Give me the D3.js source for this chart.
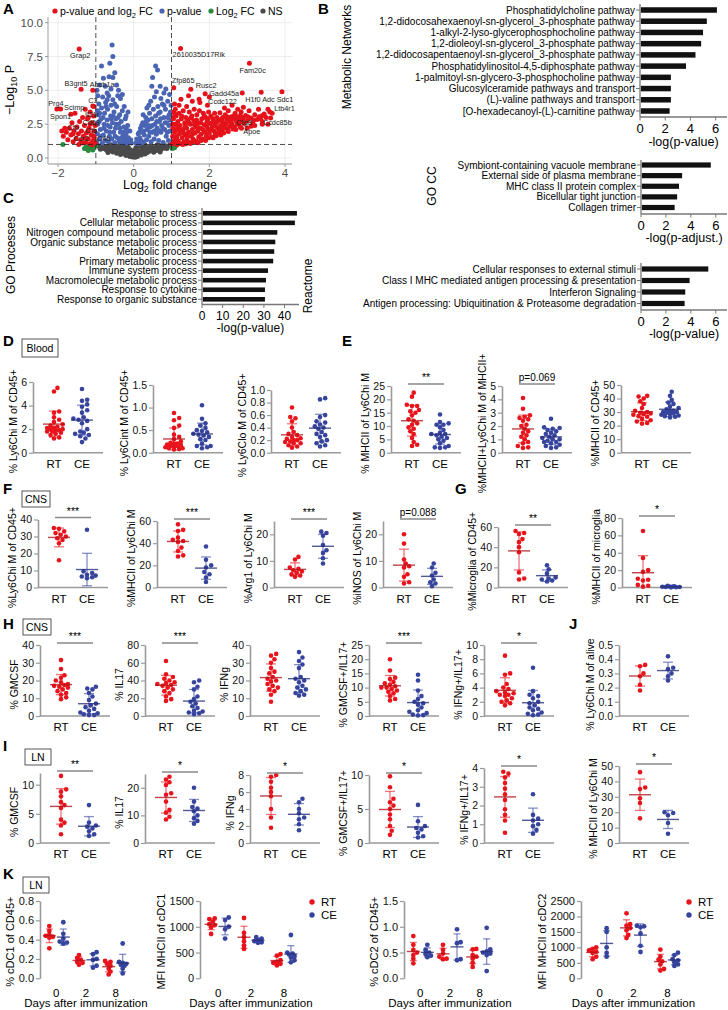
<!DOCTYPE html>
<html><head><meta charset="utf-8">
<script src="https://cdn.jsdelivr.net/npm/d3@7"></script>
<style>body{margin:0;background:#fff}svg{display:block}</style>
</head><body><script>
// ================= DATA =================
// Panel A volcano: [log2FC, -log10 P]
const volcanoGray = [[-0.95,0.92],[-0.9,0.8],[-0.85,0.95],[-0.8,0.7],[-0.78,0.88],[-0.72,0.6],[-0.7,0.82],[-0.65,0.95],[-0.62,0.55],[-0.6,0.75],[-0.55,0.45],[-0.52,0.88],[-0.5,0.65],[-0.45,0.35],[-0.42,0.78],[-0.4,0.55],[-0.38,0.95],[-0.35,0.25],[-0.32,0.68],[-0.3,0.45],[-0.27,0.85],[-0.25,0.3],[-0.22,0.6],[-0.2,0.18],[-0.18,0.92],[-0.15,0.42],[-0.12,0.7],[-0.1,0.12],[-0.08,0.3],[-0.05,0.55],[-0.03,0.08],[0,0.2],[0.02,0.4],[0.04,0.05],[0.06,0.75],[0.08,0.28],[0.1,0.12],[0.12,0.55],[0.15,0.35],[0.17,0.9],[0.2,0.22],[0.22,0.65],[0.25,0.45],[0.28,0.85],[0.3,0.3],[0.33,0.6],[0.36,0.4],[0.4,0.78],[0.42,0.5],[0.46,0.95],[0.5,0.62],[0.53,0.42],[0.57,0.8],[0.6,0.55],[0.65,0.7],[0.68,0.92],[0.72,0.62],[0.76,0.82],[0.8,0.72],[0.85,0.9],[0.9,0.85],[0.95,0.95],[-0.98,0.98],[-0.6,0.98],[0.3,0.98],[-0.25,0.98],[0.62,0.98],[-0.1,0.5],[0.05,0.62],[-0.15,0.8],[0.1,0.9],[-0.88,0.65],[-0.68,0.4],[0.7,0.45],[0.88,0.7],[-0.35,0.72],[0.45,0.7],[-0.02,0.35],[0.18,0.5]];
const volcanoBlue = [[-0.98,1.2],[-0.96,1.8],[-0.95,2.5],[-0.93,3.2],[-0.92,4.0],[-0.9,1.4],[-0.88,2.1],[-0.86,2.9],[-0.85,3.7],[-0.83,1.1],[-0.82,4.5],[-0.8,1.7],[-0.78,2.5],[-0.77,3.3],[-0.75,1.3],[-0.74,4.1],[-0.72,2.0],[-0.7,2.8],[-0.69,3.6],[-0.67,1.2],[-0.66,4.6],[-0.64,1.6],[-0.62,2.3],[-0.61,3.1],[-0.6,3.9],[-0.58,1.4],[-0.56,2.6],[-0.55,4.3],[-0.53,1.9],[-0.52,3.4],[-0.5,1.15],[-0.48,2.2],[-0.47,2.9],[-0.45,3.8],[-0.43,1.5],[-0.42,4.6],[-0.4,2.5],[-0.38,1.25],[-0.37,3.2],[-0.35,1.9],[-0.33,2.7],[-0.31,1.1],[-0.3,3.5],[-0.28,1.6],[-0.26,2.3],[-0.24,1.3],[-0.22,2.9],[-0.2,1.8],[-0.18,1.1],[-0.16,2.4],[-0.14,1.5],[-0.12,1.2],[-0.1,2.0],[-0.08,1.35],[-0.06,1.1],[-0.97,5.0],[-0.9,5.4],[-0.75,5.3],[-0.6,5.1],[-0.45,5.4],[-0.55,5.95],[-0.5,6.3],[-0.63,7.0],[-0.85,6.8],[-0.55,7.5],[-0.57,8.35],[-0.35,4.4],[-0.25,3.8],[-0.4,5.0],[-0.7,4.8],[-0.8,5.9],[-0.95,4.6],[-0.65,6.0],[-0.3,4.7],[-0.2,3.1],[-0.15,3.4],
 [-0.96,3.5],[-0.91,2.7],[-0.87,1.6],[-0.81,3.0],[-0.79,2.2],[-0.73,3.8],[-0.68,2.4],[-0.63,1.9],[-0.59,2.9],[-0.54,3.1],[-0.49,1.6],[-0.46,2.5],[-0.41,3.0],[-0.36,2.2],[-0.32,1.5],[-0.27,1.9],[-0.23,1.5],[-0.19,2.1],[-0.9,3.3],[-0.7,4.3],[-0.5,4.0],
 [0.06,1.1],[0.08,1.4],[0.1,1.2],[0.12,1.8],[0.14,1.05],[0.16,1.5],[0.18,2.2],[0.2,1.3],[0.22,1.9],[0.24,2.6],[0.26,1.15],[0.28,1.7],[0.3,2.4],[0.32,3.0],[0.34,1.35],[0.36,2.1],[0.38,2.8],[0.4,1.6],[0.42,3.3],[0.44,2.3],[0.46,1.2],[0.48,2.9],[0.5,1.9],[0.52,3.6],[0.54,1.4],[0.56,2.5],[0.58,3.1],[0.6,1.75],[0.62,2.2],[0.64,3.8],[0.66,1.3],[0.68,2.7],[0.7,3.4],[0.72,1.9],[0.74,2.4],[0.76,4.0],[0.78,1.15],[0.8,3.0],[0.82,2.1],[0.84,3.6],[0.86,1.6],[0.88,2.6],[0.9,4.2],[0.92,1.3],[0.94,3.2],[0.96,2.0],[0.98,2.8],[0.99,3.9],[0.58,6.8],[0.63,6.5],[0.5,5.95],[0.48,5.3],[0.7,5.3],[0.8,4.8],[0.55,4.5],[0.45,4.2],[0.35,3.7],[0.25,3.2],[0.6,4.9],[0.95,4.7],[0.85,5.1],[0.72,4.4],[0.4,3.9],
 [0.15,1.9],[0.21,2.4],[0.27,2.0],[0.33,2.7],[0.39,2.4],[0.43,1.9],[0.49,2.4],[0.55,2.0],[0.61,2.7],[0.67,2.0],[0.71,2.9],[0.77,2.2],[0.83,2.6],[0.89,1.9],[0.93,2.4],[0.97,3.4],[0.66,3.3],[0.8,3.9],[0.9,3.0]];
const volcanoRed = [[1.02,1.05],[1.03,1.6],[1.04,2.2],[1.05,2.9],[1.06,3.4],[1.07,1.3],[1.08,1.9],[1.1,2.5],[1.11,1.1],[1.12,3.1],[1.14,1.6],[1.15,2.1],[1.17,2.7],[1.18,1.25],[1.2,3.3],[1.21,1.8],[1.23,2.4],[1.25,1.05],[1.26,2.9],[1.28,1.5],[1.3,2.1],[1.31,3.5],[1.33,1.2],[1.35,2.6],[1.36,1.7],[1.38,3.0],[1.4,2.2],[1.41,1.35],[1.43,2.8],[1.45,1.9],[1.47,3.4],[1.48,1.15],[1.5,2.5],[1.52,1.6],[1.54,3.1],[1.55,2.1],[1.57,1.4],[1.59,2.75],[1.6,3.6],[1.62,1.85],[1.64,2.3],[1.65,1.25],[1.67,3.2],[1.69,2.0],[1.7,2.6],[1.72,1.55],[1.74,3.5],[1.76,2.2],[1.78,1.75],[1.8,2.9],[1.82,1.4],[1.84,3.3],[1.86,2.45],[1.88,1.9],[1.9,3.0],[1.92,1.6],[1.94,2.7],[1.96,2.15],[1.98,3.4],[2.0,1.85],[2.02,2.55],[2.04,3.1],[2.06,1.55],[2.08,2.3],[2.1,2.9],[2.12,2.0],[2.14,3.3],[2.16,1.75],[2.18,2.6],[2.2,3.0],[2.22,2.2],[2.24,1.9],[2.26,2.8],[2.28,3.35],[2.3,2.4],[2.32,2.05],[2.35,3.0],[2.37,2.6],[2.39,2.2],[2.42,3.2],[2.44,2.5],[2.46,2.85],[2.48,2.15],[2.5,3.5],[2.53,2.7],[2.55,2.35],[2.58,3.05],[2.6,2.55],[2.63,2.9],[2.66,2.3],[2.68,3.3],[2.71,2.75],[2.74,2.5],[2.77,3.05],[2.8,2.65],[2.84,3.4],[2.88,2.85],[2.92,2.55],[2.96,3.15],[3.0,2.75],[3.05,3.5],[3.1,2.95],[3.15,2.6],[3.2,3.2],[3.26,2.85],[3.32,3.05],[3.4,2.7],[3.5,3.0],[3.55,2.5],[3.62,2.95],[2.85,2.2],[3.1,2.35],[1.15,0.98],[1.3,1.0],[1.5,1.08],[1.7,1.12],[1.9,1.3],[2.1,1.5],[2.3,1.7],[2.5,1.95],[2.7,2.1],[1.05,3.0],[1.1,3.6],[1.2,3.9],[1.4,3.8],[1.25,4.35],[1.55,4.2],[1.75,4.1],[1.95,3.9],[2.4,3.7],[2.6,3.9],[2.0,4.5],[1.45,4.6],[1.08,4.0],[3.3,3.6],[3.6,3.4],[2.9,3.75],[3.0,2.2],[3.2,2.4],[3.4,2.5],[3.55,3.6],[2.75,3.6],
 [1.03,2.5],[1.09,3.25],[1.13,1.45],[1.16,2.35],[1.22,2.05],[1.27,3.1],[1.32,1.85],[1.37,2.35],[1.42,1.6],[1.46,2.6],[1.51,2.95],[1.56,1.8],[1.61,2.45],[1.66,2.8],[1.71,2.25],[1.77,2.6],[1.83,2.1],[1.87,3.1],[1.93,2.35],[1.97,2.9],[2.03,2.1],[2.09,2.65],[2.15,2.4],[2.21,2.7],[2.27,2.3],[2.33,2.75],[2.41,2.45],[2.47,3.05],[2.56,2.8],[2.65,3.1],[2.73,2.95],[2.82,3.15],[2.9,3.0],[3.02,3.05],[3.18,2.8],[3.35,2.9],[3.45,3.25],[2.62,2.15],[2.38,1.85],[2.18,1.65],[1.98,1.5],[1.78,1.3],[1.6,1.2],[1.38,1.05],
 [-1.02,1.1],[-1.05,1.5],[-1.04,2.0],[-1.08,1.25],[-1.1,2.6],[-1.12,1.7],[-1.15,1.05],[-1.18,2.2],[-1.2,1.4],[-1.22,2.9],[-1.25,1.85],[-1.27,1.15],[-1.3,2.4],[-1.33,1.6],[-1.35,3.0],[-1.38,2.0],[-1.4,1.3],[-1.43,2.7],[-1.46,1.8],[-1.5,2.3],[-1.52,1.45],[-1.55,3.3],[-1.58,2.0],[-1.6,1.2],[-1.63,2.6],[-1.66,1.7],[-1.7,2.2],[-1.74,1.35],[-1.78,1.9],[-1.82,2.2],[-1.86,1.6],[-1.9,2.0],[-1.06,3.1],[-1.15,3.4],[-1.28,3.6],[-1.02,2.4],[-1.1,0.98],[-1.45,1.0],[-1.35,1.1],[-1.05,3.8]];
const volcanoGreen = [[-1.87,1.0],[-1.2,0.55],[-1.15,0.75],[-1.12,0.9],[-1.25,0.85],[-1.08,0.6],[-1.3,0.7],[-1.05,0.8],[-1.18,0.95],[-1.22,0.65],[1.02,0.7],[1.05,0.85],[1.08,0.75],[1.12,0.92],[-1.0,0.95]];
const volcanoGenes = [["Grap2",-1.44,8.05],["2610035D17Rik",1.24,8.1],["Fam20c",3.06,7.0],["Zfp865",1.06,5.2],["Rusc2",1.51,5.09],["Gadd45a",1.89,4.74],["Ccdc122",1.73,4.35],["H1f0",2.87,4.8],["Adc",3.37,4.86],["Sdc1",3.92,4.9],["Ltb4r1",3.66,3.3],["Ccdc85b",3.39,3.13],["Ctg8",2.82,2.75],["Apoe",2.82,2.3],["B3gnt5",-1.39,5.09],["Abcb1a",-1.08,5.0],["C3",-1.08,3.85],["Prg4",-2.03,3.63],["Spon1",-1.93,3.63],["Scimp",-1.66,3.24],["Il21r",-1.2,3.0],["Cd69",-1.15,2.5],["Cfb",-1.2,2.0],["C4b",-1.05,1.6],["Cfp",-1.6,1.8],["Ccr2",-1.3,1.5]];
const volcanoXTicks = [-2,0,2,4];
const volcanoYTicks = [0,2.5,5,7.5,10];

// Panel B / C enrichment
const metabolicPathways = ["Phosphatidylcholine pathway","1,2-didocosahexaenoyl-sn-glycerol_3-phosphate pathway","1-alkyl-2-lyso-glycerophosphocholine pathway","1,2-dioleoyl-sn-glycerol_3-phosphate pathway","1,2-didocosapentaenoyl-sn-glycerol_3-phosphate pathway","Phosphatidylinositol-4,5-diphosphate pathway","1-palmitoyl-sn-glycero-3-phosphocholine pathway","Glucosylceramide pathways and transport","(L)-valine pathways and transport","[O-hexadecanoyl-(L)-carnitine pathway"];
const metabolicScores = [6.1,5.3,5.0,4.85,4.4,3.65,2.45,2.45,2.45,2.35];
const goccTerms = ["Symbiont-containing vacuole membrane","External side of plasma membrane","MHC class II protein complex","Bicellular tight junction","Collagen trimer"];
const goccScores = [5.6,3.3,3.05,2.9,2.7];
const reactomeTerms = ["Cellular responses to external stimuli","Class I MHC mediated antigen processing & presentation","Interferon Signaling","Antigen processing: Ubiquitination & Proteasome degradation"];
const reactomeScores = [5.4,3.9,3.55,3.5];
const goProcessTerms = ["Response to stress","Cellular metabolic process","Nitrogen compound metabolic process","Organic substance metabolic process","Metabolic process","Primary metabolic process","Immune system process","Macromolecule metabolic process","Response to cytokine","Response to organic substance"];
const goProcessScores = [46,45,36.5,35.5,35,34.5,32,31,30.5,30.5];
const enrichTicks = [0,2,4,6];
const goProcessTicks = [0,10,20,30,40];

// Panels D-J (RT vs CE)
const groups = ["RT","CE"];
const bloodLy6ChiRT = [5.5,5.2,3.5,3.4,3.0,2.8,2.6,2.4,2.3,2.2,2.1,2.1,2.0,2.0,1.9,1.9,1.8,1.8,1.7,1.6,1.5,1.3,1.2];
const bloodLy6ChiCE = [5.4,4.5,4.4,4.1,3.9,3.6,3.4,3.0,2.9,2.8,2.7,2.5,2.0,1.8,1.7,1.6,1.5,1.4,1.2,0.9];
const bloodLy6CintRT = [0.88,0.77,0.72,0.6,0.55,0.4,0.35,0.3,0.25,0.22,0.2,0.2,0.18,0.17,0.15,0.15,0.13,0.12,0.1,0.1,0.08,0.07];
const bloodLy6CintCE = [1.05,0.75,0.65,0.6,0.55,0.5,0.48,0.45,0.42,0.4,0.38,0.35,0.3,0.28,0.2,0.15,0.15,0.12,0.1];
const bloodLy6CloRT = [0.72,0.57,0.55,0.5,0.4,0.33,0.3,0.28,0.25,0.23,0.22,0.2,0.2,0.18,0.17,0.15,0.15,0.12,0.1,0.08];
const bloodLy6CloCE = [0.87,0.85,0.6,0.57,0.5,0.48,0.45,0.42,0.4,0.38,0.33,0.3,0.28,0.25,0.2,0.18,0.15,0.12,0.1];
const bloodMhcLy6ChiRT = [22.5,21,18,17.5,17.5,16,15.5,15,14,12.5,12,11,10.5,9.5,9,8,7,5.5,4,3,2.5];
const bloodMhcLy6ChiCE = [14.3,11.5,11,10.5,10.5,9.5,8.5,7.5,7,7,6.5,6,5.5,5,4.5,3.5,2.5,2,2,1.8];
const bloodMhcFracRT = [4.1,3.3,2.8,2.7,2.6,2.5,2.4,2.1,2.0,1.8,1.6,1.5,1.3,1.2,1.0,0.8,0.7,0.5,0.4,0.35];
const bloodMhcFracCE = [2.55,1.9,1.85,1.8,1.7,1.6,1.5,1.4,1.3,1.2,1.1,1.0,1.0,0.9,0.8,0.8,0.7,0.6,0.5,0.4,0.35];
const bloodMhcCd45RT = [42,41.5,40,38,36,33,31,30,29.5,29,28.5,28,27,26.5,25,24,23,22,21.5];
const bloodMhcCd45CE = [45,42,39,37,36,34,33,32,31,30.5,30,30,29.5,29,28.5,28,27.5,27,26.5,26];
const cnsLy6ChiRT = [35,34.5,33,32,31,30,29,28,26,16];
const cnsLy6ChiCE = [34,9.5,8.5,7.5,7,6.5,6,5.5];
const cnsMhcRT = [57,52,51,45,43,42,41,36,33,29,28];
const cnsMhcCE = [37,25,20,18,14,12,9,5];
const cnsArg1RT = [11.5,10.5,7.5,7,6.5,6,5.5,5,4.5,4];
const cnsArg1CE = [21,20.5,19.5,16,14,13,11,9];
const cnsInosRT = [20,16.5,10.5,9,8,7.5,5,4,2,1.5];
const cnsInosCE = [9,7.5,5.5,4.5,3,2,1.5,0.5];
const cnsMicrogliaRT = [56,54,53,48,45,40,35,15,9,8];
const cnsMicrogliaCE = [22,18,14,10,9,8,7,6];
const microgliaMhcRT = [65,34,20,18,10,9,8,3,2,1];
const microgliaMhcCE = [2,1.5,1.2,1,0.8,0.6,0.5,0.3,0.2];
const cnsGmcsfRT = [31.5,26.5,23,21.5,20,19,18,17.5,17,16.5,16,15,14,13,12,10.5,9.5];
const cnsGmcsfCE = [16.5,15.5,15,13,11,9,7,6,5,4,3,2,1.5,1,0.5,0.5];
const cnsIl17RT = [62,47,44,42,40,38,37,36,35,34,32,30,28,26,22,19,17];
const cnsIl17CE = [40,38,33,30,22,19,16,14,11,9,6,5,4,3,2];
const cnsIfngRT = [35,34,32,30,27,25,24,22,21,20,19.5,18,17,16,15,14,12,8];
const cnsIfngCE = [36,33,31,29,27,22,21,20,19,17,16,15,14,13,12,11.5];
const cnsGmIlRT = [20,16,13.5,13,12,11.5,11,10.5,10,10,9.5,9,8.5,8,7,6,5.5];
const cnsGmIlCE = [14.5,12.5,9,7,6,5,4.5,4,3,2,1.5,1,0.5,0.3,0.2];
const cnsIfIlRT = [8.5,6,5.8,4.5,4,3.8,3.5,3.3,3.2,3,3,2.8,2.5,2.2,2,1.8,1.5];
const cnsIfIlCE = [6.8,3.5,3,2.8,2.5,2,1.8,1.5,1.2,1,0.8,0.5,0.3,0.2,0.1];
const aliveLy6ChiRT = [0.36,0.35,0.3,0.28,0.22,0.18];
const aliveLy6ChiCE = [0.42,0.34,0.33,0.3,0.28,0.25];
const lnGmcsfRT = [11.5,9.2,8.8,8,7,6.5,6,4,3.5,3,1.5];
const lnGmcsfCE = [6.5,3.5,3,2.8,2.5,2,1.5,1.2];
const lnIl17RT = [24,23,22,21,18,17.5,15,12,11,9.5,8.5];
const lnIl17CE = [20,15,13,12.5,11.5,10,9,8,7];
const lnIfngRT = [8,7.8,7.2,6.5,6,5.5,4,3,1.8];
const lnIfngCE = [5.2,4.8,4,3.5,3,2.8,2.2,1.5];
const lnGmIlRT = [9.8,8.2,6.5,6,5.5,5,4.2,3.5,2.5,1.8,1.2];
const lnGmIlCE = [5.6,3.2,2.5,2.2,2,1.5,1,0.8];
const lnIfIlRT = [3.8,3.7,3.5,3.2,2.9,2.6,2.3,1.8,1.5,1.2,0.55];
const lnIfIlCE = [2.6,1.5,1.3,1.2,1,0.9,0.7,0.5];
const lnMhcLy6ChiRT = [46,36,35,29,26,16];
const lnMhcLy6ChiCE = [20,19.5,18,13,6];

// Panel K (per day 0, 2, 8)
const kDays = ["0","2","8"];
const cdc1PctRT = [[0.54,0.49,0.45,0.44,0.43,0.42,0.31],[0.24,0.21,0.19,0.17,0.16,0.14],[0.18,0.17,0.15,0.13,0.1,0.07,0.04]];
const cdc1PctCE = [[0.58,0.46,0.41,0.38,0.37,0.36],[0.27,0.25,0.2,0.19,0.13,0.11],[0.36,0.17,0.16,0.15,0.14,0.13,0.1,0.05]];
const cdc1MfiRT = [[1160,1150,1100,1050,1030,990,860],[1170,880,800,720,640,570],[470,440,350,320,300,280,250]];
const cdc1MfiCE = [[1180,1130,1000,950,770],[800,770,740,720,700,690],[840,500,480,460,430,400,350,310]];
const cdc2PctRT = [[0.82,0.65,0.55,0.5,0.45,0.38,0.29],[0.65,0.55,0.48,0.42,0.38,0.37],[0.57,0.56,0.45,0.42,0.38,0.3,0.22]];
const cdc2PctCE = [[0.65,0.55,0.5,0.47,0.44,0.41],[0.95,0.7,0.68,0.37,0.35],[0.98,0.56,0.52,0.5,0.48,0.45,0.14]];
const cdc2MfiRT = [[1000,950,900,860,820,700,620],[2100,1750,1700,1620,1550,1400,1300],[930,700,600,550,450,300,250]];
const cdc2MfiCE = [[1620,1500,1000,820,700],[1700,1680,1650,1450,1050,850],[830,750,620,580,520,450,400]];

// ================= DRAWING =================
const FONT = "'Liberation Sans', Arial, Helvetica, sans-serif";
const RED = "#e8141c", BLUE = "#36449e";
const RED_D = "#b3141a", BLUE_D = "#27307a";
const AXC = "#9a9a9a";
const svg = d3.select("body").append("svg").attr("width",728).attr("height",1010)
  .style("font-family",FONT);

function txt(g,x,y,s,o={}){
  return g.append("text").attr("x",x).attr("y",y).text(s)
    .attr("font-size",o.size||11).attr("text-anchor",o.anchor||"start")
    .attr("fill",o.fill||"#000").attr("font-weight",o.weight||"normal");
}
function vtext(g,x,y,s,size){
  return g.append("text").attr("transform",`translate(${x},${y}) rotate(-90)`)
    .attr("text-anchor","middle").attr("dominant-baseline","central")
    .attr("font-size",size).text(s);
}

// panel letters
[["A",3,14],["B",318,14],["C",3,203],["D",3,346],["E",342,346],["F",3,494],["G",455,494],["H",3,629],["J",569,629],["I",3,751],["K",3,879]]
  .forEach(([l,x,y])=>txt(svg,x,y,l,{size:15,weight:"bold"}));

// ---------- Panel A ----------
(function(){
  const g = svg.append("g");
  const x = d3.scaleLinear().domain([-2,4]).range([58,285]);
  const y = d3.scaleLinear().domain([0,10]).range([158,22.7]);
  const L=48,R=292,T=17,B=164;
  volcanoXTicks.forEach(v=>g.append("line").attr("x1",x(v)).attr("x2",x(v)).attr("y1",T).attr("y2",B).attr("stroke","#ebebeb").attr("stroke-width",0.9));
  volcanoYTicks.forEach(v=>g.append("line").attr("x1",L).attr("x2",R).attr("y1",y(v)).attr("y2",y(v)).attr("stroke","#ebebeb").attr("stroke-width",0.9));
  g.append("line").attr("x1",L).attr("x2",L).attr("y1",T).attr("y2",B).attr("stroke","#b5b5b5").attr("stroke-width",1.3);
  g.append("line").attr("x1",L).attr("x2",R).attr("y1",B).attr("y2",B).attr("stroke","#b5b5b5").attr("stroke-width",1.3);
  volcanoYTicks.forEach(v=>{
    g.append("line").attr("x1",L-3).attr("x2",L).attr("y1",y(v)).attr("y2",y(v)).attr("stroke","#999");
    txt(g,L-5,y(v)+4,d3.format(".1f")(v),{size:11.5,anchor:"end",fill:"#4d4d4d"});
  });
  volcanoXTicks.forEach(v=>{
    g.append("line").attr("x1",x(v)).attr("x2",x(v)).attr("y1",B).attr("y2",B+3).attr("stroke","#999");
    txt(g,x(v),B+13,v<0?"\u2212"+Math.abs(v):String(v),{size:11.5,anchor:"middle",fill:"#4d4d4d"});
  });
  const pts=(arr,c)=>g.append("g").selectAll("circle").data(arr).join("circle")
    .attr("cx",d=>x(d[0])).attr("cy",d=>y(d[1])).attr("r",2.5).attr("fill",c);
  pts(volcanoGray,"#4a4a4a");
  pts(volcanoGreen,"#2b8a3e");
  pts(volcanoBlue,"#4a64b4");
  pts(volcanoRed,"#e4121a");
  pts(volcanoGenes.map(d=>[d[1],d[2]]),"#e4121a");
  [-1,1].forEach(v=>g.append("line").attr("x1",x(v)).attr("x2",x(v)).attr("y1",T).attr("y2",B).attr("stroke","#222").attr("stroke-width",0.8).attr("stroke-dasharray","5,3"));
  g.append("line").attr("x1",L).attr("x2",R).attr("y1",y(1)).attr("y2",y(1)).attr("stroke","#222").attr("stroke-width",0.8).attr("stroke-dasharray","5,3");
  const place = {"Grap2":[1,9,"middle"],"2610035D17Rik":[-8,9,"start"],"Fam20c":[-10,10,"start"],"Zfp865":[-2,-5,"start"],"Rusc2":[5,-1,"start"],"Gadd45a":[4,2,"start"],"Ccdc122":[9,5,"start"],"H1f0":[3,9,"start"],"Adc":[1,10,"start"],"Sdc1":[3,10,"middle"],"Ltb4r1":[2,-2,"start"],"Ccdc85b":[1,9,"start"],"Ctg8":[-4,4,"start"],"Apoe":[3,7,"start"],"B3gnt5":[-5,-3,"middle"],"Abcb1a":[-3,-3,"start"],"C3":[0,-3,"middle"],"Prg4":[-1,-3,"middle"],"Spon1":[0,10,"middle"],"Scimp":[3.3,-4.3,"middle"],"Il21r":[3.9,-0.9,"middle"],"Cd69":[1,0.55,"middle"],"Cfb":[3,2.1,"middle"],"C4b":[3,5,"start"],"Cfp":[0,-3.7,"middle"],"Ccr2":[-3.4,3.6,"middle"]};
  volcanoGenes.forEach(([n,a,b])=>{const p=place[n];txt(g,x(a)+p[0],y(b)+p[1],n,{size:7.3,anchor:p[2],fill:"#222"});});
  const leg=[["#e4121a",55,["p-value and log","2"," FC"]],["#4a64b4",162,["p-value"]],["#2b8a3e",211,["Log","2"," FC"]],["#4a4a4a",263,["NS"]]];
  leg.forEach(([c,lx,parts])=>{
    g.append("circle").attr("cx",lx).attr("cy",11).attr("r",2.6).attr("fill",c);
    const t=g.append("text").attr("x",lx+5).attr("y",15).attr("font-size",10.5);
    t.append("tspan").text(parts[0]);
    if(parts.length>1){t.append("tspan").attr("dy",2.5).attr("font-size",7.5).text(parts[1]);t.append("tspan").attr("dy",-2.5).text(parts[2]);}
  });
  const xt=g.append("text").attr("x",(L+R)/2).attr("y",189).attr("text-anchor","middle").attr("font-size",12.5);
  xt.append("tspan").text("Log");xt.append("tspan").attr("dy",3).attr("font-size",9).text("2");xt.append("tspan").attr("dy",-3).text(" fold change");
  const yt=g.append("text").attr("transform","translate(14,90) rotate(-90)").attr("text-anchor","middle").attr("font-size",12.5);
  yt.append("tspan").text("\u2212Log");yt.append("tspan").attr("dy",3).attr("font-size",9).text("10");yt.append("tspan").attr("dy",-3).text(" P");
})();

// ---------- bar panels ----------
function barPanel(o){
  const g=svg.append("g");
  const x=d3.scaleLinear().domain([0,o.max]).range([o.x0,o.x1]);
  const y=d3.scalePoint().domain(o.cats).range([o.yFirst,o.yLast]);
  g.selectAll("rect").data(o.cats).join("rect").attr("x",o.x0+0.8).attr("y",d=>y(d)-o.bh/2)
    .attr("width",(d,i)=>x(o.vals[i])-o.x0-0.8).attr("height",o.bh).attr("fill","#111");
  g.append("line").attr("x1",o.x0).attr("x2",o.x0).attr("y1",o.axTop).attr("y2",o.axBottom).attr("stroke","#777").attr("stroke-width",1.3);
  g.append("line").attr("x1",o.x0).attr("x2",o.x1).attr("y1",o.axBottom).attr("y2",o.axBottom).attr("stroke","#777").attr("stroke-width",1.3);
  o.cats.forEach(c=>{
    g.append("line").attr("x1",o.x0-4).attr("x2",o.x0).attr("y1",y(c)).attr("y2",y(c)).attr("stroke","#777");
    txt(g,o.x0-5,y(c)+o.labelSize*0.36,c,{size:o.labelSize,anchor:"end"});
  });
  o.ticks.forEach(t=>{
    g.append("line").attr("x1",x(t)).attr("x2",x(t)).attr("y1",o.axBottom).attr("y2",o.axBottom+3.5).attr("stroke","#777");
    txt(g,x(t),o.axBottom+o.tickDy,String(t),{size:o.tickSize,anchor:"middle"});
  });
  txt(g,(o.x0+o.x1)/2,o.axBottom+o.titleDy,o.title,{size:o.titleSize,anchor:"middle"});
  vtext(g,o.sideX,o.sideY,o.side,12);
}
barPanel({cats:metabolicPathways,vals:metabolicScores,max:6.9,x0:640,x1:727,yFirst:10,yLast:111,bh:5.5,axTop:4,axBottom:117,labelSize:10,ticks:enrichTicks,tickSize:13,tickDy:16,title:"-log(p-value)",titleSize:12.5,titleDy:29,side:"Metabolic Networks",sideX:347,sideY:57});
barPanel({cats:goccTerms,vals:goccScores,max:6.9,x0:641,x1:727,yFirst:165,yLast:207.5,bh:5.2,axTop:160,axBottom:214,labelSize:10,ticks:enrichTicks,tickSize:13,tickDy:16,title:"-log(p-adjust.)",titleSize:12.5,titleDy:28,side:"GO CC",sideX:432,sideY:186});
barPanel({cats:reactomeTerms,vals:reactomeScores,max:6.9,x0:641,x1:727,yFirst:269,yLast:303.5,bh:5.2,axTop:263,axBottom:310,labelSize:10,ticks:enrichTicks,tickSize:13,tickDy:16,title:"-log(p-value)",titleSize:12.5,titleDy:28,side:"Reactome",sideX:308,sideY:286});
barPanel({cats:goProcessTerms,vals:goProcessScores,max:47,x0:202,x1:299,yFirst:213.3,yLast:299.3,bh:4.6,axTop:208,axBottom:304.5,labelSize:10,ticks:goProcessTicks,tickSize:12,tickDy:15,title:"-log(p-value)",titleSize:12,titleDy:27,side:"GO Processes",sideX:11,sideY:255});

// ---------- dot plot helpers ----------
function swarm(ys,r,sep,maxSpread){
  const idx=d3.range(ys.length).sort((a,b)=>ys[b]-ys[a]);
  const placed=[]; const off=new Array(ys.length).fill(0);
  for(const i of idx){
    let chosen=null, s=sep;
    while(chosen===null){
      for(let k=0;k<80;k++){
        const mag=Math.ceil(k/2)*r*0.75; const cand=k%2===1?mag:-mag;
        if(Math.abs(cand)>maxSpread) break;
        let ok=true;
        for(const q of placed){const dx=q.x-cand,dy=q.y-ys[i]; if(dx*dx+dy*dy<s*s){ok=false;break;}}
        if(ok){chosen=cand;break;}
      }
      s*=0.8; if(s<0.5&&chosen===null) chosen=0;
    }
    off[i]=chosen; placed.push({x:chosen,y:ys[i]});
  }
  return off;
}
function styleAxis(ax,size){
  ax.attr("font-family",FONT).attr("font-size",size);
  ax.select(".domain").attr("stroke",AXC).attr("stroke-width",1.6);
  ax.selectAll(".tick line").attr("stroke",AXC).attr("stroke-width",1.2);
  ax.selectAll(".tick text").attr("fill","#111");
}
function drawGroup(g,vals,cx,y,col,dark,o){
  const ys=vals.map(v=>y(v));
  const off=swarm(ys,o.r,o.sep,o.spread);
  g.append("g").selectAll("circle").data(vals).join("circle")
    .attr("cx",(d,i)=>cx+off[i]).attr("cy",d=>y(d)).attr("r",o.r).attr("fill",col);
  const m=d3.mean(vals), sd=d3.deviation(vals);
  const lo=Math.max(y.domain()[0],m-sd), hi=m+sd;
  const eg=g.append("g").attr("stroke",col).attr("stroke-opacity",0.6).attr("stroke-width",1.3);
  eg.append("line").attr("x1",cx).attr("x2",cx).attr("y1",y(lo)).attr("y2",y(hi));
  eg.append("line").attr("x1",cx-o.cap).attr("x2",cx+o.cap).attr("y1",y(hi)).attr("y2",y(hi));
  if(m-sd>0) eg.append("line").attr("x1",cx-o.cap).attr("x2",cx+o.cap).attr("y1",y(lo)).attr("y2",y(lo));
  g.append("line").attr("x1",cx-o.mean).attr("x2",cx+o.mean).attr("y1",y(m)).attr("y2",y(m))
    .attr("stroke",dark).attr("stroke-opacity",0.8).attr("stroke-width",1.4);
}
function dotPanel(p){
  const g=svg.append("g");
  const w=70;
  const y=d3.scaleLinear().domain([0,p.max]).range([p.bottom,p.top]);
  const x=d3.scalePoint().domain(groups).range([p.ax,p.ax+w]).padding(0.75);
  const ax=g.append("g").attr("transform",`translate(${p.ax},0)`)
    .call(d3.axisLeft(y).tickValues(p.ticks).tickSize(4).tickSizeOuter(0).tickPadding(2).tickFormat(d3.format(p.fmt||"~g")));
  styleAxis(ax,10.5);
  g.append("line").attr("x1",p.ax).attr("x2",p.ax+w).attr("y1",p.bottom).attr("y2",p.bottom).attr("stroke",AXC).attr("stroke-width",1.6);
  groups.forEach(k=>txt(g,x(k),p.bottom+15,k,{size:11.5,anchor:"middle"}));
  const bw=ax.node().getBBox().width;
  vtext(g,p.ax-bw-8,(p.top+p.bottom)/2+4,p.title,10.5);
  const opt={r:2.3,sep:4.2,spread:10,cap:5,mean:11};
  drawGroup(g,p.rt,x("RT"),y,RED,RED_D,opt);
  drawGroup(g,p.ce,x("CE"),y,BLUE,BLUE_D,opt);
  if(p.sig){
    const sy=p.top-2;
    g.append("line").attr("x1",x("RT")-4).attr("x2",x("CE")+4).attr("y1",sy).attr("y2",sy).attr("stroke","#888").attr("stroke-width",1.3);
    txt(g,(x("RT")+x("CE"))/2,sy-3,p.sig,{size:p.sig[0]==="p"?10:10.5,anchor:"middle"});
  }
}
function tagBox(x,y,w,h,s){
  svg.append("rect").attr("x",x).attr("y",y).attr("width",w).attr("height",h).attr("fill","none").attr("stroke","#444").attr("stroke-width",0.9);
  txt(svg,x+w/2,y+h/2+3.8,s,{size:10.5,anchor:"middle"});
}
tagBox(22,339,36,18,"Blood");
tagBox(22,491,28,16,"CNS");
tagBox(23,619,28,16,"CNS");
tagBox(25,749,26,16,"LN");
tagBox(23,877,26,16,"LN");

// D / E
const rowD=452.7;
dotPanel({ax:33,bottom:rowD,top:382,max:6,ticks:[0,2,4,6],title:"% Ly6Chi M of CD45+",rt:bloodLy6ChiRT,ce:bloodLy6ChiCE});
dotPanel({ax:153,bottom:rowD,top:385,max:1.5,ticks:[0,0.5,1,1.5],fmt:".1f",title:"% Ly6Cint M of CD45+",rt:bloodLy6CintRT,ce:bloodLy6CintCE});
dotPanel({ax:271,bottom:rowD,top:390,max:1,ticks:[0,0.2,0.4,0.6,0.8,1],fmt:".1f",title:"% Ly6Clo M of CD45+",rt:bloodLy6CloRT,ce:bloodLy6CloCE});
dotPanel({ax:391,bottom:rowD,top:386,max:25,ticks:[0,5,10,15,20,25],title:"% MHCII of Ly6Chi  M",rt:bloodMhcLy6ChiRT,ce:bloodMhcLy6ChiCE,sig:"**"});
dotPanel({ax:502,bottom:rowD,top:386,max:5,ticks:[0,1,2,3,4,5],title:"%MHCII+Ly6Chi M of MHCII+",rt:bloodMhcFracRT,ce:bloodMhcFracCE,sig:"p=0.069"});
dotPanel({ax:621,bottom:rowD,top:385,max:50,ticks:[0,10,20,30,40,50],title:"%MHCII of CD45+",rt:bloodMhcCd45RT,ce:bloodMhcCd45CE});
// F / G
const rowF=587.5;
dotPanel({ax:38,bottom:rowF,top:519.5,max:40,ticks:[0,10,20,30,40],title:"%Ly6Chi M of CD45+",rt:cnsLy6ChiRT,ce:cnsLy6ChiCE,sig:"***"});
dotPanel({ax:157,bottom:rowF,top:521,max:60,ticks:[0,20,40,60],title:"%MHCII of Ly6Chi M",rt:cnsMhcRT,ce:cnsMhcCE,sig:"***"});
dotPanel({ax:274,bottom:rowF,top:521,max:25,ticks:[0,10,20],title:"%Arg1 of Ly6Chi M",rt:cnsArg1RT,ce:cnsArg1CE,sig:"***"});
dotPanel({ax:383,bottom:rowF,top:521,max:25,ticks:[0,10,20],title:"%iNOS of Ly6Chi M",rt:cnsInosRT,ce:cnsInosCE,sig:"p=0.088"});
dotPanel({ax:498,bottom:rowF,top:527,max:60,ticks:[0,20,40,60],title:"%Microglia of CD45+",rt:cnsMicrogliaRT,ce:cnsMicrogliaCE,sig:"**"});
dotPanel({ax:622,bottom:rowF,top:518,max:80,ticks:[0,20,40,60,80],title:"%MHCII of microglia",rt:microgliaMhcRT,ce:microgliaMhcCE,sig:"*"});
// H / J
const rowH=716;
dotPanel({ax:40,bottom:rowH,top:645,max:40,ticks:[0,10,20,30,40],title:"% GMCSF",rt:cnsGmcsfRT,ce:cnsGmcsfCE,sig:"***"});
dotPanel({ax:145,bottom:rowH,top:645,max:80,ticks:[0,20,40,60,80],title:"% IL17",rt:cnsIl17RT,ce:cnsIl17CE,sig:"***"});
dotPanel({ax:250,bottom:rowH,top:645,max:40,ticks:[0,10,20,30,40],title:"% IFNg",rt:cnsIfngRT,ce:cnsIfngCE});
dotPanel({ax:369,bottom:rowH,top:645,max:25,ticks:[0,5,10,15,20,25],title:"% GMCSF+/IL17+",rt:cnsGmIlRT,ce:cnsGmIlCE,sig:"***"});
dotPanel({ax:484,bottom:rowH,top:645,max:10,ticks:[0,2,4,6,8,10],title:"% IFNg+/IL17+",rt:cnsIfIlRT,ce:cnsIfIlCE,sig:"*"});
dotPanel({ax:619,bottom:rowH,top:645,max:0.5,ticks:[0,0.1,0.2,0.3,0.4,0.5],fmt:".1f",title:"% Ly6Chi M of alive",rt:aliveLy6ChiRT,ce:aliveLy6ChiCE});
// I / J
const rowI=843;
dotPanel({ax:40,bottom:rowI,top:773,max:12,ticks:[0,5,10],title:"% GMCSF",rt:lnGmcsfRT,ce:lnGmcsfCE,sig:"**"});
dotPanel({ax:145,bottom:rowI,top:774,max:25,ticks:[0,10,20],title:"% IL17",rt:lnIl17RT,ce:lnIl17CE,sig:"*"});
dotPanel({ax:250,bottom:rowI,top:775,max:8,ticks:[0,2,4,6,8],title:"% IFNg",rt:lnIfngRT,ce:lnIfngCE,sig:"*"});
dotPanel({ax:369,bottom:rowI,top:775,max:10,ticks:[0,5,10],title:"% GMCSF+/IL17+",rt:lnGmIlRT,ce:lnGmIlCE,sig:"*"});
dotPanel({ax:484,bottom:rowI,top:768,max:4,ticks:[0,1,2,3,4],title:"% IFNg+/IL17+",rt:lnIfIlRT,ce:lnIfIlCE,sig:"*"});
dotPanel({ax:619,bottom:rowI,top:766,max:50,ticks:[0,10,20,30,40,50],title:"% MHCII of Ly6Chi M",rt:lnMhcLy6ChiRT,ce:lnMhcLy6ChiCE,sig:"*"});

// ---------- Panel K ----------
function kPanel(p){
  const g=svg.append("g");
  const bottom=978.3, top=901;
  const y=d3.scaleLinear().domain([0,p.max]).range([bottom,top]);
  const x=d3.scalePoint().domain(kDays).range([p.ax,p.ax+p.w]).padding(0.55);
  const ax=g.append("g").attr("transform",`translate(${p.ax},0)`)
    .call(d3.axisLeft(y).tickValues(p.ticks).tickSize(4).tickSizeOuter(0).tickPadding(2).tickFormat(d3.format(p.fmt||"d")));
  styleAxis(ax,11);
  kDays.forEach((d,i)=>{
    txt(g,x(d),bottom+19,d,{size:11.5,anchor:"middle"});
    const opt={r:2.4,sep:3.2,spread:5,cap:3.5,mean:6.5};
    drawGroup(g,p.rt[i],x(d)-7,y,RED,RED_D,opt);
    drawGroup(g,p.ce[i],x(d)+7,y,BLUE,BLUE_D,opt);
  });
  txt(g,p.ax+p.w/2,bottom+29,"Days after immunization",{size:11.5,anchor:"middle"});
  const bw=ax.node().getBBox().width;
  vtext(g,p.ax-bw-8,(top+bottom)/2+2,p.title,11);
  if(p.legend){
    [["RT",RED,902],["CE",BLUE,915]].forEach(([s,c,ly])=>{
      g.append("circle").attr("cx",p.legend).attr("cy",ly).attr("r",2.7).attr("fill",c);
      txt(g,p.legend+9,ly+4,s,{size:11.5});
    });
  }
}
kPanel({ax:40,w:92,max:0.8,ticks:[0,0.2,0.4,0.6,0.8],fmt:".1f",title:"% cDC1 of CD45+",rt:cdc1PctRT,ce:cdc1PctCE});
kPanel({ax:200,w:102,max:1500,ticks:[0,500,1000,1500],title:"MFI MHCII of cDC1",rt:cdc1MfiRT,ce:cdc1MfiCE,legend:312});
kPanel({ax:404,w:92,max:1.5,ticks:[0,0.5,1,1.5],fmt:".1f",title:"% cDC2 of CD45+",rt:cdc2PctRT,ce:cdc2PctCE});
kPanel({ax:581,w:105,max:2500,ticks:[0,500,1000,1500,2000,2500],title:"MFI MHCII of cDC2",rt:cdc2MfiRT,ce:cdc2MfiCE,legend:689});
</script></body></html>
